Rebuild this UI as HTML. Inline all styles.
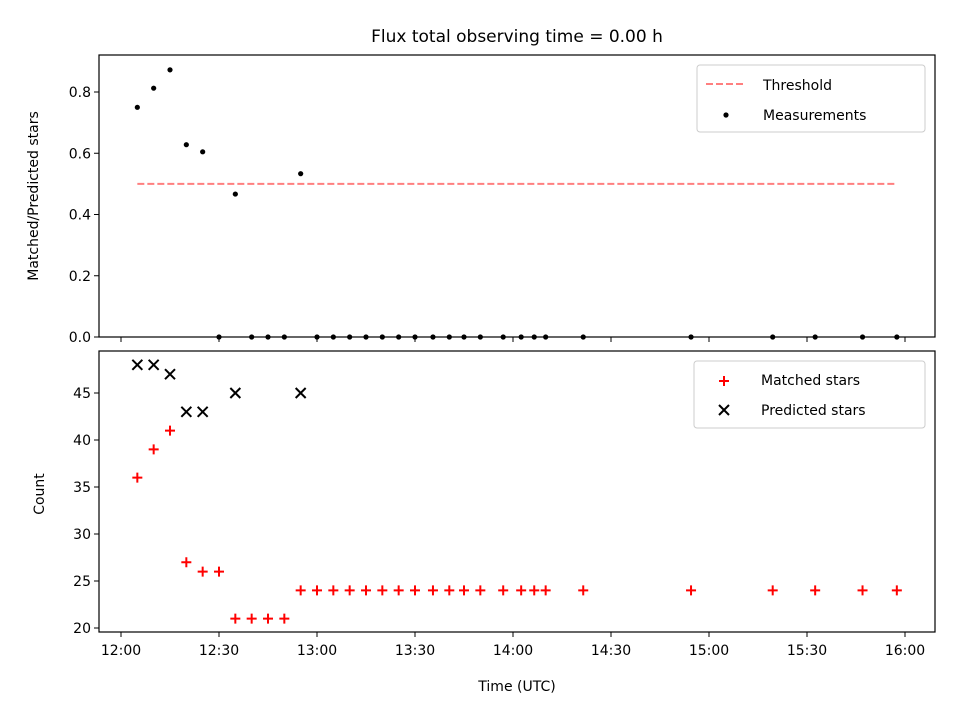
<!DOCTYPE html>
<html><head><meta charset="utf-8"><style>
body{margin:0;background:#fff;font-family:"Liberation Sans","DejaVu Sans",sans-serif}
svg text{font-family:"DejaVu Sans","Liberation Sans",sans-serif;fill:#000}
</style></head><body>
<svg id="c" width="960" height="720" xmlns="http://www.w3.org/2000/svg">
<rect width="960" height="720" fill="#fff"/>
<text x="517" y="42" font-size="17" text-anchor="middle">Flux total observing time = 0.00 h</text>
<g id="topPanel"></g><g id="botPanel"></g>
<text x="517" y="691" font-size="14" text-anchor="middle">Time (UTC)</text>
<text transform="translate(38,196) rotate(-90)" font-size="14" text-anchor="middle">Matched/Predicted stars</text>
<text transform="translate(44,494) rotate(-90)" font-size="14" text-anchor="middle">Count</text>
</svg>
<script>
const minutes=[5,10,15,20,25,30,35,40,45,50,55,60,65,70,75,80,85,90,95.5,100.5,105,110,117,122.5,126.5,130,141.5,174.5,199.5,212.5,227,237.5];
const matched=[36,39,41,27,26,26,21,21,21,21,24,24,24,24,24,24,24,24,24,24,24,24,24,24,24,24,24,24,24,24,24,24];
const predicted=[48,48,47,43,43,null,45,null,null,null,45,null,null,null,null,null,null,null,null,null,null,null,null,null,null,null,null,null,null,null,null,null];
const threshold=0.5;
const xTickMin=[0,30,60,90,120,150,180,210,240];
const xTickLabels=["12:00","12:30","13:00","13:30","14:00","14:30","15:00","15:30","16:00"];
const topTicks=[0,0.2,0.4,0.6,0.8];
const botTicks=[20,25,30,35,40,45];
const NS="http://www.w3.org/2000/svg";
const L=99,R=935;
const xs=m=>121+m*98/30;
const yT=v=>337-v*306.25;
const yB=v=>628-(v-20)*9.4;
function mk(p,tag,a){const e=document.createElementNS(NS,tag);for(const k in a)e.setAttribute(k,a[k]);p.appendChild(e);return e;}
const gTop=document.getElementById('topPanel'),gBot=document.getElementById('botPanel');
const th=mk(gTop,'line',{x1:xs(minutes[0]),x2:xs(minutes[minutes.length-1]),y1:yT(threshold),y2:yT(threshold),stroke:'#ff7f7f','stroke-width':2,'stroke-dasharray':'7,3'});


minutes.forEach((m,i)=>{
 const r=predicted[i]?matched[i]/predicted[i]:0;
 const c=mk(gTop,'circle',{cx:xs(m),cy:yT(r),r:2.6,fill:'#000'});
 
 
 const px=xs(m),py=yB(matched[i]);
 const g=mk(gBot,'path',{d:`M${px-5},${py}H${px+5}M${px},${py-5}V${py+5}`,stroke:'#f00','stroke-width':2});
 
 
 if(predicted[i]!=null){const qy=yB(predicted[i]);
  const h=mk(gBot,'path',{d:`M${px-5},${qy-5}L${px+5},${qy+5}M${px-5},${qy+5}L${px+5},${qy-5}`,stroke:'#000','stroke-width':2});
  
  }
});
const f1=mk(gTop,'rect',{x:L,y:55,width:R-L,height:282,fill:'none',stroke:'#000','stroke-width':1.2});


const f2=mk(gBot,'rect',{x:L,y:351,width:R-L,height:281,fill:'none',stroke:'#000','stroke-width':1.2});


xTickMin.forEach((m,i)=>{
 mk(gTop,'line',{x1:xs(m),x2:xs(m),y1:337,y2:342,stroke:'#000'});
 mk(gBot,'line',{x1:xs(m),x2:xs(m),y1:632,y2:637,stroke:'#000'});
 const tl=mk(gBot,'text',{x:xs(m),y:655,'font-size':14,'text-anchor':'middle'});tl.textContent=xTickLabels[i];
 
 
});
topTicks.forEach(v=>{
 mk(gTop,'line',{x1:L-5,x2:L,y1:yT(v),y2:yT(v),stroke:'#000'});
 const tl=mk(gTop,'text',{x:L-8,y:yT(v)+5,'font-size':14,'text-anchor':'end'});tl.textContent=v.toFixed(1);
 
 
});
botTicks.forEach(v=>{
 mk(gBot,'line',{x1:L-5,x2:L,y1:yB(v),y2:yB(v),stroke:'#000'});
 const tl=mk(gBot,'text',{x:L-8,y:yB(v)+5,'font-size':14,'text-anchor':'end'});tl.textContent=v;
 
 
});
const lg1=mk(gTop,'rect',{x:697,y:65,width:228,height:67,rx:3,fill:'#fff',stroke:'#ccc'});


mk(gTop,'line',{x1:706,x2:746,y1:84,y2:84,stroke:'#ff7f7f','stroke-width':2,'stroke-dasharray':'7,3'});
let lt=mk(gTop,'text',{x:763,y:90,'font-size':14});lt.textContent='Threshold';


mk(gTop,'circle',{cx:726,cy:115,r:2.6,fill:'#000'});
lt=mk(gTop,'text',{x:763,y:120,'font-size':14});lt.textContent='Measurements';


const lg2=mk(gBot,'rect',{x:694,y:361,width:231,height:67,rx:3,fill:'#fff',stroke:'#ccc'});


mk(gBot,'path',{d:'M719,381H729M724,376V386',stroke:'#f00','stroke-width':2});
lt=mk(gBot,'text',{x:761,y:385,'font-size':14});lt.textContent='Matched stars';


mk(gBot,'path',{d:'M719,405L729,415M719,415L729,405',stroke:'#000','stroke-width':2});
lt=mk(gBot,'text',{x:761,y:415,'font-size':14});lt.textContent='Predicted stars';


</script>
</body></html>
